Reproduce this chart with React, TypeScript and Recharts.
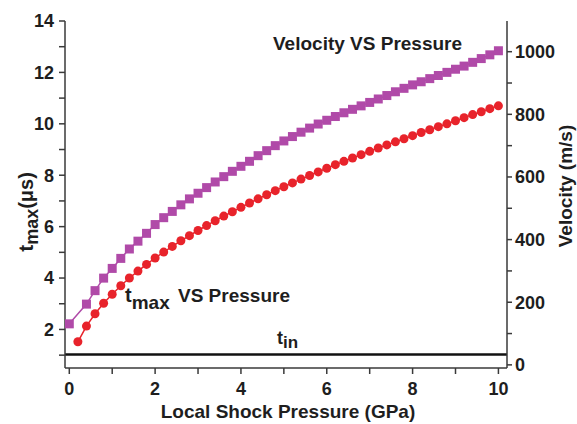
import React from 'react';
import { LineChart, Line, XAxis, YAxis, ReferenceLine } from 'recharts';

// t_max readings (left axis, μs)
const tMaxPressure = [
	0.2, 0.4, 0.6, 0.8, 1.0, 1.2, 1.4, 1.6, 1.8, 2.0, 2.2, 2.4, 2.6, 2.8, 3.0, 3.2, 3.4, 3.6, 3.8, 4.0, 4.2, 4.4, 4.6,
	4.8, 5.0, 5.2, 5.4, 5.6, 5.8, 6.0, 6.2, 6.4, 6.6, 6.8, 7.0, 7.2, 7.4, 7.6, 7.8, 8.0, 8.2, 8.4, 8.6, 8.8, 9.0, 9.2,
	9.4, 9.6, 9.8, 10.0,
];
const tMax = [
	1.52, 2.13, 2.61, 3.02, 3.37, 3.7, 4.0, 4.27, 4.53, 4.78, 5.01, 5.23, 5.45, 5.65, 5.85, 6.04, 6.23, 6.41, 6.58, 6.75,
	6.92, 7.08, 7.24, 7.4, 7.55, 7.7, 7.85, 7.99, 8.13, 8.27, 8.41, 8.54, 8.67, 8.8, 8.93, 9.06, 9.18, 9.3, 9.42, 9.54,
	9.66, 9.77, 9.89, 10.0, 10.12, 10.24, 10.36, 10.47, 10.59, 10.7,
];

// velocity readings (right axis, m/s)
const velocityPressure = [
	0, 0.4, 0.6, 0.8, 1.0, 1.2, 1.4, 1.6, 1.8, 2.0, 2.2, 2.4, 2.6, 2.8, 3.0, 3.2, 3.4, 3.6, 3.8, 4.0, 4.2, 4.4, 4.6, 4.8,
	5.0, 5.2, 5.4, 5.6, 5.8, 6.0, 6.2, 6.4, 6.6, 6.8, 7.0, 7.2, 7.4, 7.6, 7.8, 8.0, 8.2, 8.4, 8.6, 8.8, 9.0, 9.2, 9.4,
	9.6, 9.8, 10.0,
];
const velocity = [
	131, 194, 237, 277, 308, 340, 370, 395, 420, 448, 470, 490, 511, 530, 548, 566, 584, 601, 618, 634, 650, 668, 684,
	700, 715, 729, 743, 756, 769, 781, 793, 805, 816, 827, 838, 849, 860, 872, 883, 894, 904, 914, 924, 934, 944, 954,
	966, 978, 990, 1003,
];

const tIn = 1.03;

const xTicks = [0, 1, 2, 3, 4, 5, 6, 7, 8, 9, 10];
const leftTicks = [1, 2, 3, 4, 5, 6, 7, 8, 9, 10, 11, 12, 13, 14];
const rightTicks = [0, 100, 200, 300, 400, 500, 600, 700, 800, 900, 1000];

const RED = '#e8232b';
const MAGENTA = '#b04aa8';
const AXIS = '#3a3a3a';
const FONT = '"Liberation Sans", Arial, sans-serif';

const tMaxData = tMaxPressure.map((p, i) => ({ p, t: tMax[i] }));
const velocityData = velocityPressure.map((p, i) => ({ p, v: velocity[i] }));

const tickStyle = { fill: '#1e1e1e', fontSize: 18, fontWeight: 700, fontFamily: FONT };

const SquareDot = (props: any) => {
	const { cx, cy, index } = props;
	if (cx == null || cy == null) return <g key={index} />;
	return <rect key={index} x={cx - 4.5} y={cy - 4.5} width={9} height={9} fill={MAGENTA} />;
};

export default function App() {
	return (
		<div style={{ position: 'absolute', left: 0, top: 0, width: 577, height: 424, background: '#fff' }}>
			<LineChart width={577} height={424} margin={{ top: 21, right: 0, bottom: 0, left: 0 }}>
				<XAxis
					dataKey="p"
					type="number"
					domain={[-0.1, 10.2]}
					ticks={xTicks}
					interval={0}
					allowDataOverflow
					height={56}
					tickSize={6}
					tickMargin={8}
					stroke={AXIS}
					strokeWidth={1.5}
					tick={tickStyle}
					tickFormatter={(v: number) => (v % 2 === 0 ? String(v) : '')}
				/>
				<XAxis
					xAxisId="top"
					orientation="top"
					dataKey="p"
					type="number"
					domain={[-0.1, 10.2]}
					ticks={xTicks}
					interval={0}
					allowDataOverflow
					height={0}
					mirror
					tickSize={5}
					stroke={AXIS}
					strokeWidth={1.5}
					tickFormatter={() => ''}
				/>
				<YAxis
					yAxisId="left"
					orientation="left"
					type="number"
					domain={[0.5, 14]}
					ticks={leftTicks}
					interval={0}
					allowDataOverflow
					width={65}
					tickSize={6}
					tickMargin={5}
					stroke={AXIS}
					strokeWidth={1.5}
					tick={tickStyle}
					tickFormatter={(v: number) => (v % 2 === 0 ? String(v) : '')}
				/>
				<YAxis
					yAxisId="right"
					orientation="right"
					type="number"
					domain={[-10, 1098]}
					ticks={rightTicks}
					interval={0}
					allowDataOverflow
					width={70}
					tickSize={5}
					tickMargin={3}
					stroke={AXIS}
					strokeWidth={1.5}
					tick={tickStyle}
					tickFormatter={(v: number) => (v % 200 === 0 ? String(v) : '')}
				/>
				<ReferenceLine yAxisId="left" y={tIn} stroke="#111" strokeWidth={2.5} />
				<Line
					data={velocityData}
					yAxisId="right"
					dataKey="v"
					stroke={MAGENTA}
					strokeWidth={1.5}
					dot={SquareDot}
					isAnimationActive={false}
				/>
				<Line
					data={tMaxData}
					yAxisId="left"
					dataKey="t"
					stroke={RED}
					strokeWidth={1.5}
					dot={{ r: 4.5, fill: RED, stroke: RED, strokeWidth: 0 }}
					isAnimationActive={false}
				/>
			</LineChart>
			<svg
				width={577}
				height={424}
				style={{ position: 'absolute', left: 0, top: 0, pointerEvents: 'none' }}
				fontFamily={FONT}
				fontWeight={700}
				fill="#1e1e1e"
			>
				<text transform="translate(33,212) rotate(-90)" textAnchor="middle" fontSize={20}>
					<tspan fontSize={21}>t</tspan>
					<tspan fontSize={18} dy={5}>max</tspan>
					<tspan dy={-5}>(μs)</tspan>
				</text>
				<text transform="translate(572,186) rotate(-90)" textAnchor="middle" fontSize={19}>
					Velocity (m/s)
				</text>
				<text x={288} y={418} textAnchor="middle" fontSize={19}>
					Local Shock Pressure (GPa)
				</text>
				<text x={273} y={50} fontSize={19}>
					Velocity VS Pressure
				</text>
				<text x={125} y={302} fontSize={19}>
					<tspan fontSize={20}>t</tspan>
					<tspan fontSize={19} dy={7}>max</tspan>
					<tspan dy={-7} x={178}>VS Pressure</tspan>
				</text>
				<text x={277} y={344} fontSize={18}>
					<tspan>t</tspan>
					<tspan fontSize={17} dy={4}>in</tspan>
				</text>
			</svg>
		</div>
	);
}
